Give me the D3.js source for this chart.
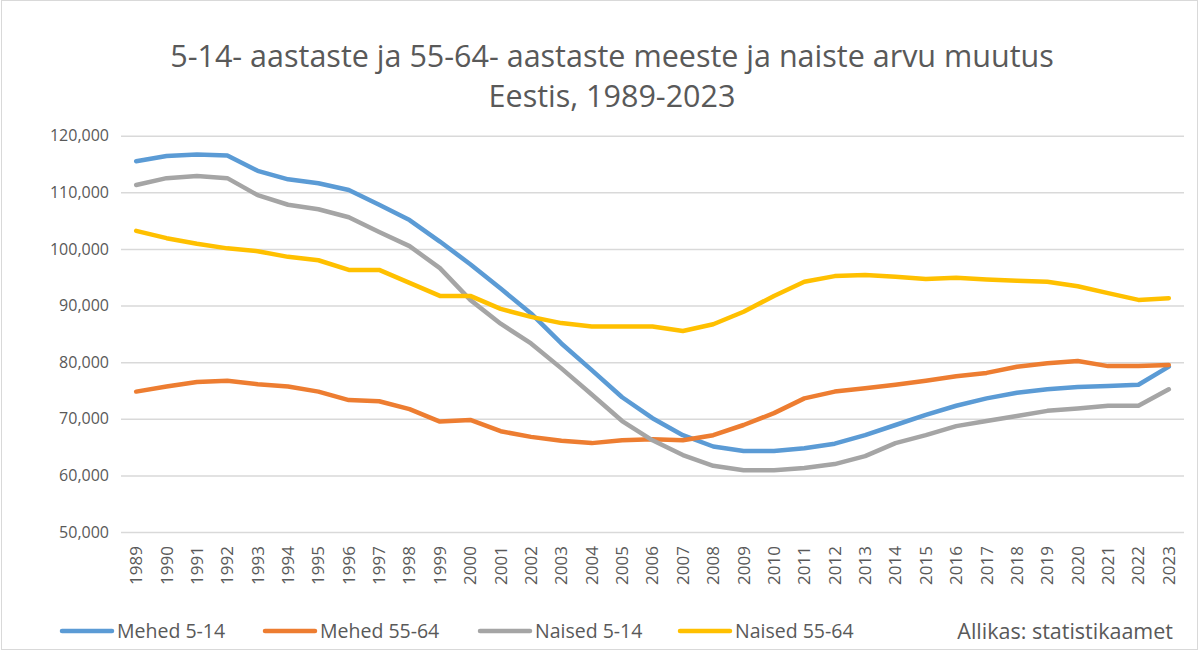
<!DOCTYPE html>
<html>
<head>
<meta charset="utf-8">
<script src="https://cdn.jsdelivr.net/npm/d3@7"></script>
<style>
  body { margin: 0; background: #fff; }
  text { font-family: "Open Sans", "Noto Sans", sans-serif; fill: #595959; }
</style>
</head>
<body>
<div id="chart"></div>
<script>
// years on the x axis
const years = d3.range(1989, 2024).map(String);

// series values
const mehed514 = [115500, 116400, 116700, 116500, 113800, 112300, 111600, 110400, 107800, 105100,
  101300, 97300, 93000, 88600, 83300, 78600, 73800, 70100, 67100, 65100,
  64300, 64300, 64800, 65600, 67100, 68900, 70700, 72300, 73600, 74600,
  75200, 75600, 75800, 76000, 79200];
const mehed5564 = [74800, 75700, 76500, 76700, 76100, 75700, 74800, 73300, 73100, 71700,
  69500, 69800, 67800, 66800, 66100, 65700, 66200, 66400, 66200, 67100,
  68900, 71000, 73600, 74800, 75400, 76000, 76700, 77500, 78100, 79200,
  79800, 80200, 79300, 79300, 79500];
const naised514 = [111300, 112500, 112900, 112500, 109500, 107800, 107000, 105600, 103000, 100500,
  96600, 91000, 86800, 83300, 78900, 74300, 69600, 66200, 63600, 61700,
  60900, 60900, 61300, 62000, 63400, 65700, 67100, 68700, 69600, 70500,
  71400, 71800, 72300, 72300, 75200];
const naised5564 = [103200, 101900, 100900, 100100, 99600, 98600, 98000, 96300, 96300, 94000,
  91700, 91700, 89400, 88000, 86900, 86300, 86300, 86300, 85500, 86700,
  88900, 91700, 94200, 95200, 95400, 95100, 94700, 94900, 94600, 94400,
  94200, 93400, 92200, 91000, 91300];

const seriesNames = ["Mehed 5-14", "Mehed 55-64", "Naised 5-14", "Naised 55-64"];
const seriesColors = ["#5B9BD5", "#ED7D31", "#A5A5A5", "#FFC000"];
const yTicks = [50000, 60000, 70000, 80000, 90000, 100000, 110000, 120000];
const titleLines = ["5-14- aastaste ja 55-64- aastaste meeste ja naiste arvu muutus", "Eestis, 1989-2023"];
const sourceText = "Allikas: statistikaamet";

const width = 1201, height = 651;
const svg = d3.select("#chart").append("svg")
  .attr("width", width)
  .attr("height", height);

// chart frame
svg.append("rect")
  .attr("x", 1.5).attr("y", 0.5)
  .attr("width", 1196).attr("height", 649)
  .attr("fill", "#fff")
  .attr("stroke", "#d9d9d9");

// title
svg.append("g").selectAll("text")
  .data(titleLines)
  .join("text")
  .attr("x", 612)
  .attr("y", (d, i) => 67 + i * 40)
  .attr("text-anchor", "middle")
  .attr("font-size", "30.5px")
  .text(d => d);

const x = d3.scaleBand().domain(years).range([121, 1184]).padding(0);
const y = d3.scaleLinear().domain([50000, 120000]).range([532, 135.7]);

// gridlines + y labels
const yAxis = d3.axisLeft(y)
  .tickValues(yTicks)
  .tickFormat(d3.format(","))
  .tickSize(-(1184 - 121))
  .tickPadding(12);

const gy = svg.append("g")
  .attr("transform", "translate(121,0)")
  .call(yAxis);
gy.select(".domain").remove();
gy.selectAll(".tick line").attr("stroke", "#d9d9d9").attr("stroke-width", 1.5);
gy.selectAll(".tick text")
  .attr("font-size", "16px")
  .attr("font-family", "\"Open Sans\", sans-serif")
  .attr("fill", "#595959");

// x labels, rotated
const xAxis = d3.axisBottom(x).tickSize(0).tickPadding(0);
const gx = svg.append("g")
  .attr("transform", "translate(0,532)")
  .call(xAxis);
gx.select(".domain").remove();
gx.selectAll(".tick text")
  .attr("font-size", "17px")
  .attr("font-family", "\"Open Sans\", sans-serif")
  .attr("fill", "#595959")
  .attr("transform", "rotate(-90)")
  .attr("text-anchor", "end")
  .attr("x", -14)
  .attr("y", 0)
  .attr("dy", "0.35em");

// lines
const allSeries = [mehed514, mehed5564, naised514, naised5564];
const line = d3.line()
  .x((d, i) => x(years[i]) + x.bandwidth() / 2)
  .y(d => y(d));

svg.append("g").selectAll("path")
  .data(allSeries)
  .join("path")
  .attr("d", d => line(d))
  .attr("fill", "none")
  .attr("stroke", (d, i) => seriesColors[i])
  .attr("stroke-width", 4.5)
  .attr("stroke-linejoin", "round")
  .attr("stroke-linecap", "round");

// legend
const legendX = [62, 265, 480, 680];
const legend = svg.append("g").selectAll("g")
  .data(seriesNames)
  .join("g")
  .attr("transform", (d, i) => "translate(" + legendX[i] + ",631)");
legend.append("line")
  .attr("x1", 0).attr("x2", 50)
  .attr("stroke", (d, i) => seriesColors[i])
  .attr("stroke-width", 4.5)
  .attr("stroke-linecap", "round");
legend.append("text")
  .attr("x", 55)
  .attr("dy", "0.35em")
  .attr("font-size", "19.5px")
  .text(d => d);

svg.append("text")
  .attr("x", 1173)
  .attr("y", 631)
  .attr("dy", "0.35em")
  .attr("text-anchor", "end")
  .attr("font-size", "21.5px")
  .text(sourceText);
</script>
</body>
</html>
